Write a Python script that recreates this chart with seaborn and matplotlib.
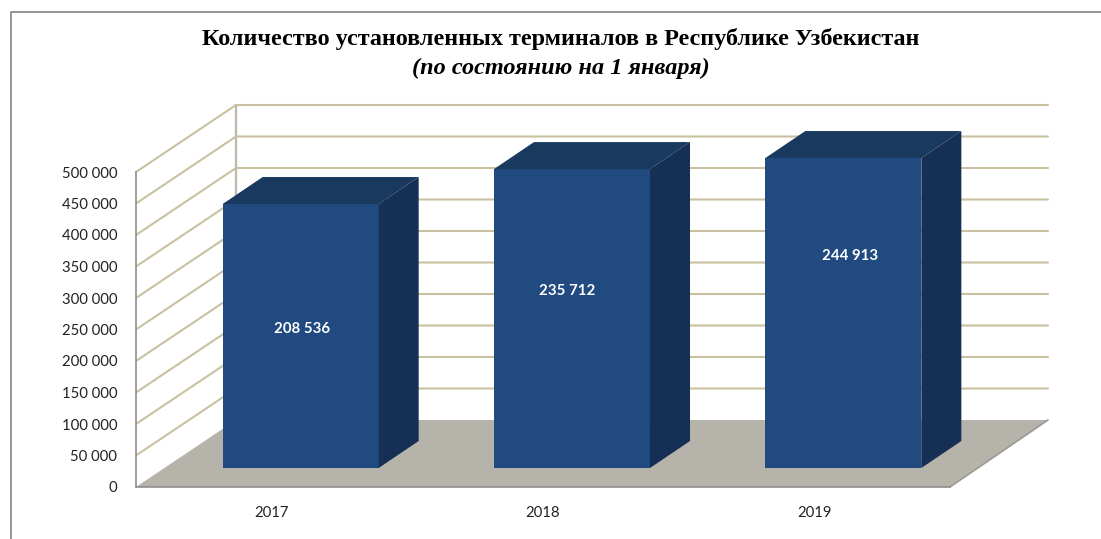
import pandas as pd
import seaborn as sns
import matplotlib.pyplot as plt
from matplotlib.patches import Polygon
from matplotlib.lines import Line2D
from matplotlib.ticker import FuncFormatter
from matplotlib.transforms import Affine2D, IdentityTransform

years = ['2017', '2018', '2019']
# heights, the labels are the printed values
bar_heights = [419000, 474500, 492000]
bar_labels = ['208 536', '235 712', '244 913']
y_ticks = list(range(0, 500001, 50000))

title_main = 'Количество установленных терминалов в Республике Узбекистан'
title_sub = '(по состоянию на 1 января)'

W, H = 1101, 539
FRONT = '#204a80'
TOP = '#19395f'
SIDE = '#152f55'
GRID = '#c9c19f'
FLOOR = '#b6b3aa'
FRAME = '#8e8e8e'
WALL_D = (100, -67)   # depth of the whole chart box, pixels (y down)
BAR_SHIFT = (29, 19)  # front of bars against front of floor, pixels
BAR_D = (40, 27)      # depth of one bar, pixels

sns.set_theme(style='white')
plt.rcParams['font.family'] = ['Lato', 'DejaVu Sans']

fig = plt.figure(figsize=(W / 100, H / 100), dpi=100)
ax = fig.add_axes([136 / W, (H - 487) / H, 814 / W, 315 / H])
ax.patch.set_alpha(0)

df = pd.DataFrame({'year': years, 'height': bar_heights})
sns.barplot(data=df, x='year', y='height', color=FRONT, saturation=1, width=0.575, linewidth=0, ax=ax, zorder=5)
ax.set_xlim(-0.5, 2.5)
ax.set_ylim(0, 500000)
ax.set_xlabel('')
ax.set_ylabel('')
ax.set_yticks(y_ticks)
ax.yaxis.set_major_formatter(FuncFormatter(lambda v, p: f'{int(v):,}'.replace(',', ' ')))
ax.tick_params(axis='y', length=0, pad=13.5, labelsize=10.7, labelcolor='#222222')
ax.tick_params(axis='x', length=0, pad=14, labelsize=10.7, labelcolor='#222222')
ax.spines['top'].set_visible(False)
ax.spines['right'].set_visible(False)
for s in ['left', 'bottom']:
    ax.spines[s].set_color(FRAME)
    ax.spines[s].set_linewidth(1.2)
    ax.spines[s].set_zorder(3)

px = IdentityTransform()
to_px = ax.transData.transform
x0, x1 = ax.get_xlim()
dx, dy = WALL_D[0], -WALL_D[1]
dx_r = dx - 2

# walls and floor
(fl, fb), (fr, _) = to_px([(x0, 0), (x1, 0)])
ax.add_patch(Polygon([(fl, fb), (fr, fb), (fr + dx_r, fb + dy), (fl + dx, fb + dy)], closed=True,
                     transform=px, facecolor=FLOOR, edgecolor='none', clip_on=False, zorder=2))
top_l = to_px((x0, y_ticks[-1]))
ax.add_line(Line2D([fl + dx, fl + dx], [fb + dy, top_l[1] + dy], transform=px, color='#c2bab2',
                   lw=1.7, clip_on=False, zorder=2))
ax.add_line(Line2D([fr, fr + dx_r], [fb, fb + dy], transform=px, color='#9a9a94',
                   lw=1.2, clip_on=False, zorder=2))
for t in y_ticks[1:]:
    lx, ly = to_px((x0, t))
    rx, ry = to_px((x1, t))
    ax.add_line(Line2D([lx, lx + dx, rx + dx_r], [ly, ly + dy, ry + dy], transform=px, color=GRID,
                       lw=1.5, clip_on=False, zorder=1.5))

# bars: seaborn front faces moved into the box, then top and side faces
label_frac = [0.527, 0.592, 0.684]
label_nudge = [1, -5, 7]
shift = Affine2D().translate(*BAR_SHIFT)
for p, lab, frac, nudge in zip(ax.patches[:3], bar_labels, label_frac, label_nudge):
    p.set_transform(ax.transData + shift)
    p.set_clip_on(False)
    p.set_edgecolor('none')
    bx0, by0 = to_px((p.get_x(), 0)) + BAR_SHIFT
    bx1, by1 = to_px((p.get_x() + p.get_width(), p.get_height())) + BAR_SHIFT
    ax.add_patch(Polygon([(bx0, by1), (bx1, by1), (bx1 + BAR_D[0], by1 + BAR_D[1]), (bx0 + BAR_D[0], by1 + BAR_D[1])],
                         closed=True, transform=px, facecolor=TOP, edgecolor='none', clip_on=False, zorder=5))
    ax.add_patch(Polygon([(bx1, by0), (bx1 + BAR_D[0], by0 + BAR_D[1]), (bx1 + BAR_D[0], by1 + BAR_D[1]), (bx1, by1)],
                         closed=True, transform=px, facecolor=SIDE, edgecolor='none', clip_on=False, zorder=5))
    ax.text((bx0 + bx1) / 2 + nudge, by0 + (by1 - by0) * frac, lab, transform=px, color='white',
            fontsize=10.8, fontweight='bold', ha='center', va='center', zorder=6)

# outer frame of the chart
fig.add_artist(Line2D([10.5, 10.5, W], [0, H - 12, H - 12], transform=px, color=FRAME, lw=1.3))

fig.text(561 / W, (H - 39) / H, title_main, family='Liberation Serif', fontsize=17.4, fontweight='bold',
         color='black', ha='center', va='center')
fig.text(561 / W, (H - 68) / H, title_sub, family='Liberation Serif', fontsize=17.5, fontweight='bold',
         style='italic', color='black', ha='center', va='center')

fig.savefig('out.png', dpi=100)
